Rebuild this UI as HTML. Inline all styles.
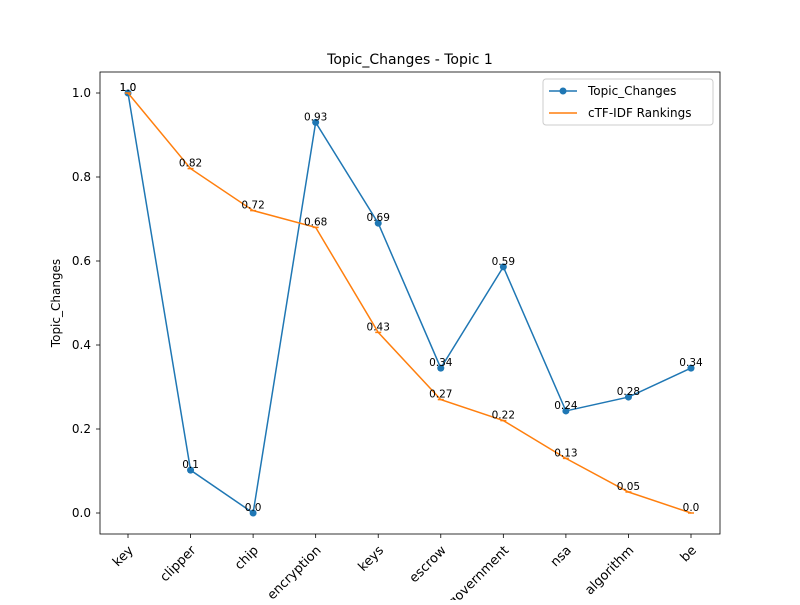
<!DOCTYPE html>
<html><head><meta charset="utf-8"><style>
body{margin:0;background:#fff;}
svg text{font-family:"DejaVu Sans","Liberation Sans",sans-serif;}
</style></head><body>
<svg id="chart" width="800" height="600" xmlns="http://www.w3.org/2000/svg">
<rect width="800" height="600" fill="#fff"/>
<text x="410" y="64" font-size="14" text-anchor="middle">Topic_Changes - Topic 1</text>
<g id="grid"></g>
<g id="marks"></g>
<rect x="100" y="72" width="620" height="462" fill="none" stroke="#000" stroke-width="0.8"/>
<text transform="translate(60,303) rotate(-90)" font-size="12" text-anchor="middle">Topic_Changes</text>
<g>
<rect x="543" y="79" width="170" height="46" rx="3" fill="#fff" stroke="#ccc"/>
<line x1="549" y1="91" x2="577" y2="91" stroke="#1f77b4" stroke-width="1.5"/>
<circle cx="563" cy="91" r="3.5" fill="#1f77b4"/>
<text x="588" y="95" font-size="12">Topic_Changes</text>
<line x1="549" y1="113" x2="577" y2="113" stroke="#ff7f0e" stroke-width="1.5"/>
<text x="588" y="117" font-size="12">cTF-IDF Rankings</text>
</g>
</svg>
<script>
const categories=["key","clipper","chip","encryption","keys","escrow","government","nsa","algorithm","be"];
const topicChanges=[1.0,0.102,0.0,0.93,0.69,0.345,0.586,0.243,0.276,0.345];
const topicLabels=["1.0","0.1","0.0","0.93","0.69","0.34","0.59","0.24","0.28","0.34"];
const ctfidf=[1.0,0.82,0.72,0.68,0.43,0.27,0.22,0.13,0.05,0.0];
const ctfidfLabels=["1.0","0.82","0.72","0.68","0.43","0.27","0.22","0.13","0.05","0.0"];
const yTicks=[0.0,0.2,0.4,0.6,0.8,1.0];
const NS="http://www.w3.org/2000/svg";
function xs(i){return 128+i*(691-128)/(categories.length-1);}
function ys(v){return 513-v*420;}
function mk(t,a,p){const e=document.createElementNS(NS,t);for(const k in a)e.setAttribute(k,a[k]);(p||document.getElementById('marks')).appendChild(e);return e;}
const g=document.getElementById('grid');
yTicks.forEach(v=>{
 const l=mk('line',{x1:96,x2:100,y1:ys(v),y2:ys(v),stroke:'#000','stroke-width':0.8},g);
 
 
 const t=mk('text',{x:91,y:ys(v)+4,'font-size':12,'text-anchor':'end'},g);
 t.textContent=v.toFixed(1);
 
 
});
categories.forEach((c,i)=>{
 const l=mk('line',{x1:xs(i),x2:xs(i),y1:534,y2:538,stroke:'#000','stroke-width':0.8},g);
 
 
 const t=mk('text',{transform:`translate(${xs(i)+6},${551}) rotate(-45)`,'font-size':13,'text-anchor':'end'},g);
 t.textContent=c;
 
 
});
function series(vals,labels,color,marker,name){
 const p=mk('polyline',{points:vals.map((v,i)=>xs(i)+','+ys(v)).join(' '),fill:'none',stroke:color,'stroke-width':1.5});
 
 
 vals.forEach((v,i)=>{
  let m;
  if(marker) m=mk('circle',{cx:xs(i),cy:ys(v),r:3.5,fill:color});
  else m=mk('line',{x1:xs(i)-3,x2:xs(i)+3,y1:ys(v),y2:ys(v),stroke:color,'stroke-width':1.5});
  
  
  const t=mk('text',{x:xs(i),y:ys(v)-2,'font-size':10.5,'text-anchor':'middle'});
  t.textContent=labels[i];
  
  
 });
}
series(topicChanges,topicLabels,'#1f77b4',true,'topic-changes');
series(ctfidf,ctfidfLabels,'#ff7f0e',false,'ctfidf');
</script>
</body></html>
